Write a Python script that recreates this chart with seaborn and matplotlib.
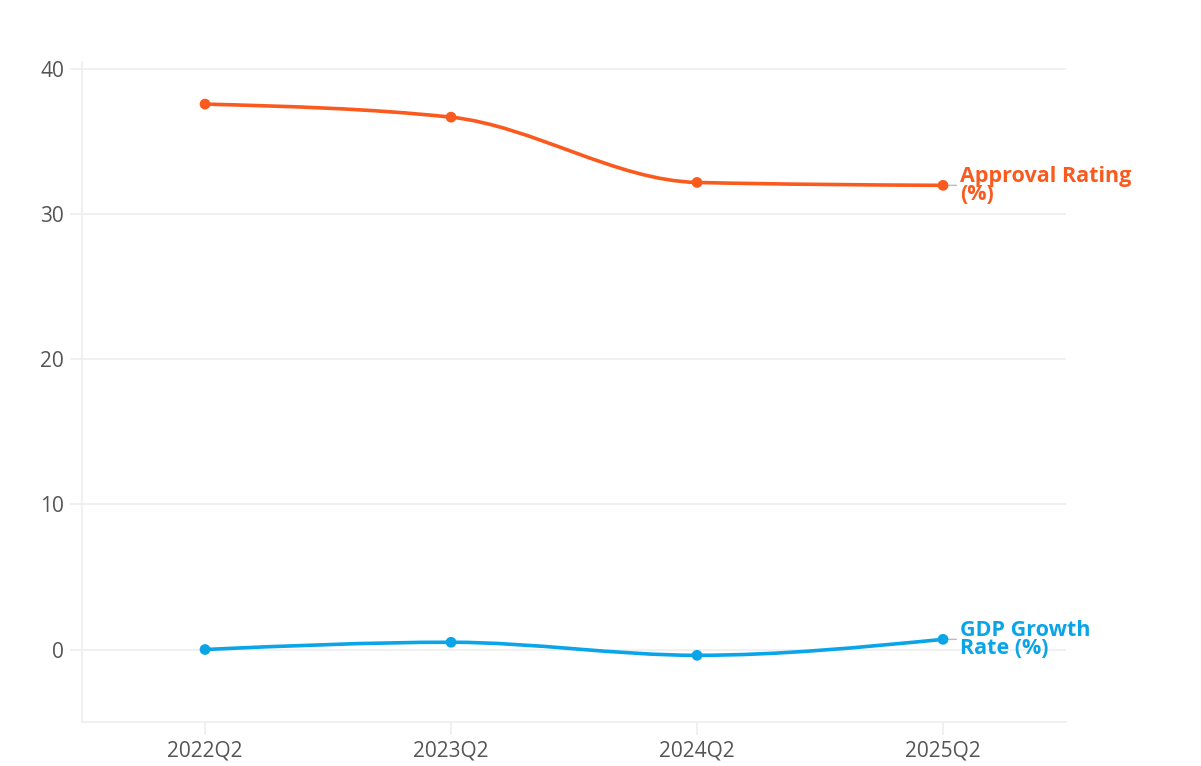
import numpy as np
import pandas as pd
import matplotlib
matplotlib.use("Agg")
import matplotlib.pyplot as plt
from matplotlib.path import Path
from matplotlib.patches import PathPatch
import seaborn as sns

quarters = ["2022Q2", "2023Q2", "2024Q2", "2025Q2"]
approval = [37.6, 36.7, 32.2, 32.0]
gdp_growth = [0.0, 0.5, -0.4, 0.7]
series_names = ["Approval Rating\n(%)", "GDP Growth\nRate (%)"]
colors = ["#FA5A1E", "#0AA5E8"]
y_ticks = [0, 10, 20, 30, 40]

sns.set_theme(style="white")
plt.rcParams["font.family"] = ["Open Sans", "DejaVu Sans"]

fig = plt.figure(figsize=(12.01, 7.66), dpi=100)
ax = fig.add_axes([0.0683, 0.0574, 0.8193, 0.8616])

xs = np.arange(len(quarters), dtype=float)


def monotone_tangents(x, y):
    n = len(x)
    t = np.zeros(n)
    for i in range(1, n - 1):
        h0 = x[i] - x[i - 1]
        h1 = x[i + 1] - x[i]
        s0 = (y[i] - y[i - 1]) / h0
        s1 = (y[i + 1] - y[i]) / h1
        p = (s0 * h1 + s1 * h0) / (h0 + h1)
        t[i] = (np.sign(s0) + np.sign(s1)) * min(abs(s0), abs(s1), 0.5 * abs(p))
    h = x[1] - x[0]
    t[0] = (3 * (y[1] - y[0]) / h - t[1]) / 2
    h = x[-1] - x[-2]
    t[-1] = (3 * (y[-1] - y[-2]) / h - t[-2]) / 2
    return t


def smooth_path(x, y):
    y = np.asarray(y, dtype=float)
    t = monotone_tangents(x, y)
    verts = [(x[0], y[0])]
    codes = [Path.MOVETO]
    for i in range(len(x) - 1):
        dx = (x[i + 1] - x[i]) / 3
        verts += [(x[i] + dx, y[i] + dx * t[i]),
                  (x[i + 1] - dx, y[i + 1] - dx * t[i + 1]),
                  (x[i + 1], y[i + 1])]
        codes += [Path.CURVE4] * 3
    return Path(verts, codes)


rows = []
for name, vals in zip(series_names, [approval, gdp_growth]):
    for q, x, v in zip(quarters, xs, vals):
        rows.append({"series": name, "quarter": q, "x": x, "value": v})
df = pd.DataFrame(rows)

for name, vals, c in zip(series_names, [approval, gdp_growth], colors):
    ax.add_patch(PathPatch(smooth_path(xs, vals), facecolor="none",
                           edgecolor=c, lw=2.6, capstyle="round", zorder=3))

sns.scatterplot(data=df, x="x", y="value", hue="series", palette=colors,
                s=60, edgecolor="none", legend=False, zorder=4, ax=ax)

for name, vals, c in zip(series_names, [approval, gdp_growth], colors):
    ax.annotate(name, xy=(xs[-1], vals[-1]), xytext=(12, 0),
                textcoords="offset points", color=c, fontsize=15.5,
                fontweight="bold", va="center", ha="left", linespacing=0.8,
                arrowprops=dict(arrowstyle="-", color="#BBBBBB", lw=1,
                                shrinkA=0, shrinkB=2))

ax.set_xlim(-0.5, len(quarters) - 0.5)
ax.set_ylim(-5, 40.5)
ax.set_xticks(xs)
ax.set_xticklabels(quarters)
ax.set_yticks(y_ticks)
ax.set_xlabel("")
ax.set_ylabel("")
ax.grid(axis="y", color="#EEEEEE", lw=1.2)
ax.set_axisbelow(True)
for side in ["top", "right"]:
    ax.spines[side].set_visible(False)
for side in ["left", "bottom"]:
    ax.spines[side].set_color("#EEEEEE")
    ax.spines[side].set_linewidth(1.2)
ax.tick_params(axis="both", length=9, width=1.2, color="#EEEEEE",
               labelcolor="#555555", labelsize=15, pad=4, left=True, bottom=True)

fig.savefig("out.png", dpi=100, facecolor="white")
